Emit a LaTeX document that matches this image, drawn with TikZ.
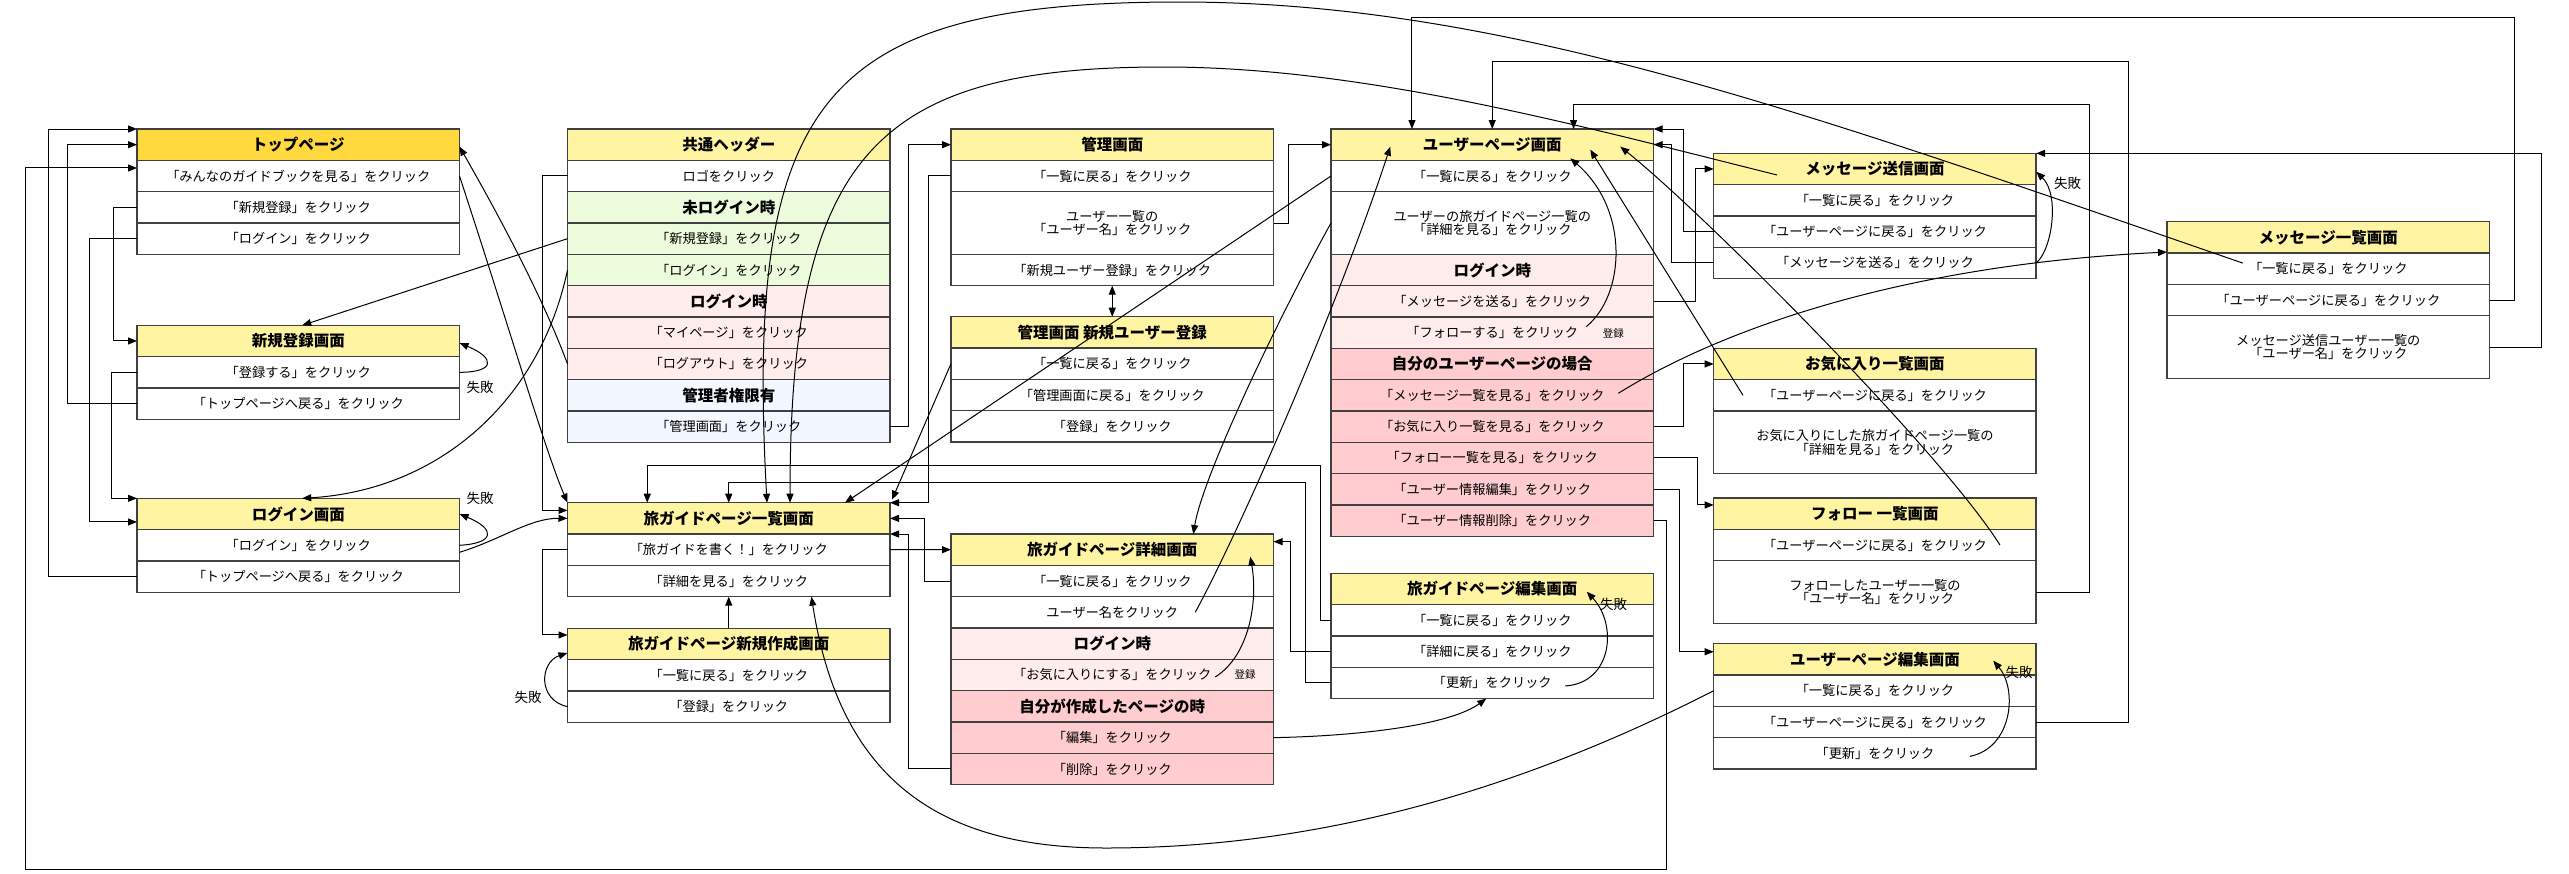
\documentclass[tikz,border=0pt]{standalone}
\usepackage{fontspec}
\setmainfont{Noto Sans CJK JP}
\usetikzlibrary{positioning,arrows.meta}

\definecolor{hdryellow}{HTML}{FFF4A1}
\definecolor{hdrgold}{HTML}{FFD93D}
\definecolor{guestgreen}{HTML}{EDFBDD}
\definecolor{loginpink}{HTML}{FFEDED}
\definecolor{ownpink}{HTML}{FFCCCF}
\definecolor{adminblue}{HTML}{F3F7FF}
\definecolor{boxline}{HTML}{404040}

\newcommand{\rowfont}{\fontsize{13.2}{15}\selectfont}
\newcommand{\twofont}{\fontsize{13.2}{13.5}\selectfont}
\newcommand{\hdrfont}{\fontsize{15.5}{17}\selectfont\bfseries}

\begin{document}
\begin{tikzpicture}[
    x=1pt, y=-1pt,
    >={Triangle[length=9pt,width=7pt]},
    scrbox/.style={draw=boxline, line width=1.5pt, fill=#1, minimum width=322.5pt,
                   minimum height=31.33pt, inner sep=0pt, outer sep=0pt},
    hdrbox/.style={scrbox=#1, font=\hdrfont}, hdrbox/.default=hdryellow,
    rowbox/.style={scrbox=#1, font=\rowfont}, rowbox/.default=white,
    twobox/.style={rowbox=#1, minimum height=62.67pt, align=center, font=\twofont},
    twobox/.default=white,
    link/.style={->, line width=1pt},
    fail/.style={font=\fontsize{13.5}{14}\selectfont},
    reg/.style={font=\fontsize{10.5}{11}\selectfont}
]
\useasboundingbox (0,0) rectangle (2569,873);

% ── トップ・新規登録・ログイン ─────────────────────────────
\node[hdrbox=hdrgold, anchor=north west] (top) at (137,129) {トップページ};
\node[rowbox, below=0pt of top]  (top1) {「みんなのガイドブックを見る」をクリック};
\node[rowbox, below=0pt of top1] (top2) {「新規登録」をクリック};
\node[rowbox, below=0pt of top2] (top3) {「ログイン」をクリック};

\node[hdrbox, anchor=north west] (sign) at (137,325.3) {新規登録画面};
\node[rowbox, below=0pt of sign]  (sign1) {「登録する」をクリック};
\node[rowbox, below=0pt of sign1] (sign2) {「トップページへ戻る」をクリック};

\node[hdrbox, anchor=north west] (login) at (137,498.3) {ログイン画面};
\node[rowbox, below=0pt of login]  (login1) {「ログイン」をクリック};
\node[rowbox, below=0pt of login1] (login2) {「トップページへ戻る」をクリック};

% ── 共通ヘッダー ───────────────────────────────────────────
\node[hdrbox, anchor=north west] (head) at (567.5,129) {共通ヘッダー};
\node[rowbox, below=0pt of head]  (head1) {ロゴをクリック};
\node[hdrbox=guestgreen, below=0pt of head1] (head2) {未ログイン時};
\node[rowbox=guestgreen, below=0pt of head2] (head3) {「新規登録」をクリック};
\node[rowbox=guestgreen, below=0pt of head3] (head4) {「ログイン」をクリック};
\node[hdrbox=loginpink, below=0pt of head4] (head5) {ログイン時};
\node[rowbox=loginpink, below=0pt of head5] (head6) {「マイページ」をクリック};
\node[rowbox=loginpink, below=0pt of head6] (head7) {「ログアウト」をクリック};
\node[hdrbox=adminblue, below=0pt of head7] (head8) {管理者権限有};
\node[rowbox=adminblue, below=0pt of head8] (head9) {「管理画面」をクリック};

% ── 旅ガイド一覧・新規作成 ─────────────────────────────────
\node[hdrbox, anchor=north west] (glist) at (567.5,502.7) {旅ガイドページ一覧画面};
\node[rowbox, below=0pt of glist]  (glist1) {「旅ガイドを書く！」をクリック};
\node[rowbox, below=0pt of glist1] (glist2) {「詳細を見る」をクリック};

\node[hdrbox, anchor=north west] (gnew) at (567.5,628.3) {旅ガイドページ新規作成画面};
\node[rowbox, below=0pt of gnew]  (gnew1) {「一覧に戻る」をクリック};
\node[rowbox, below=0pt of gnew1] (gnew2) {「登録」をクリック};

% ── 管理画面 ───────────────────────────────────────────────
\node[hdrbox, anchor=north west] (admin) at (951,129) {管理画面};
\node[rowbox, below=0pt of admin]  (admin1) {「一覧に戻る」をクリック};
\node[twobox, below=0pt of admin1] (admin2) {ユーザー一覧の\\「ユーザー名」をクリック};
\node[rowbox, below=0pt of admin2] (admin3) {「新規ユーザー登録」をクリック};

\node[hdrbox, anchor=north west] (anew) at (951,316.7) {管理画面 新規ユーザー登録};
\node[rowbox, below=0pt of anew]  (anew1) {「一覧に戻る」をクリック};
\node[rowbox, below=0pt of anew1] (anew2) {「管理画面に戻る」をクリック};
\node[rowbox, below=0pt of anew2] (anew3) {「登録」をクリック};

% ── 旅ガイド詳細 ───────────────────────────────────────────
\node[hdrbox, anchor=north west] (gdet) at (951,534) {旅ガイドページ詳細画面};
\node[rowbox, below=0pt of gdet]  (gdet1) {「一覧に戻る」をクリック};
\node[rowbox, below=0pt of gdet1] (gdet2) {ユーザー名をクリック};
\node[hdrbox=loginpink, below=0pt of gdet2] (gdet3) {ログイン時};
\node[rowbox=loginpink, below=0pt of gdet3] (gdet4) {「お気に入りにする」をクリック};
\node[hdrbox=ownpink, below=0pt of gdet4] (gdet5) {自分が作成したページの時};
\node[rowbox=ownpink, below=0pt of gdet5] (gdet6) {「編集」をクリック};
\node[rowbox=ownpink, below=0pt of gdet6] (gdet7) {「削除」をクリック};

% ── ユーザーページ ─────────────────────────────────────────
\node[hdrbox, anchor=north west] (user) at (1331,129) {ユーザーページ画面};
\node[rowbox, below=0pt of user]  (user1) {「一覧に戻る」をクリック};
\node[twobox, below=0pt of user1] (user2) {ユーザーの旅ガイドページ一覧の\\「詳細を見る」をクリック};
\node[hdrbox=loginpink, below=0pt of user2] (user3) {ログイン時};
\node[rowbox=loginpink, below=0pt of user3] (user4) {「メッセージを送る」をクリック};
\node[rowbox=loginpink, below=0pt of user4] (user5) {「フォローする」をクリック};
\node[hdrbox=ownpink, below=0pt of user5] (user6) {自分のユーザーページの場合};
\node[rowbox=ownpink, below=0pt of user6] (user7) {「メッセージ一覧を見る」をクリック};
\node[rowbox=ownpink, below=0pt of user7] (user8) {「お気に入り一覧を見る」をクリック};
\node[rowbox=ownpink, below=0pt of user8] (user9) {「フォロー一覧を見る」をクリック};
\node[rowbox=ownpink, below=0pt of user9] (user10) {「ユーザー情報編集」をクリック};
\node[rowbox=ownpink, below=0pt of user10] (user11) {「ユーザー情報削除」をクリック};

\node[hdrbox, anchor=north west] (gedit) at (1331,573.3) {旅ガイドページ編集画面};
\node[rowbox, below=0pt of gedit]  (gedit1) {「一覧に戻る」をクリック};
\node[rowbox, below=0pt of gedit1] (gedit2) {「詳細に戻る」をクリック};
\node[rowbox, below=0pt of gedit2] (gedit3) {「更新」をクリック};

% ── 右側の画面 ─────────────────────────────────────────────
\node[hdrbox, anchor=north west] (msend) at (1713.7,153.3) {メッセージ送信画面};
\node[rowbox, below=0pt of msend]  (msend1) {「一覧に戻る」をクリック};
\node[rowbox, below=0pt of msend1] (msend2) {「ユーザーページに戻る」をクリック};
\node[rowbox, below=0pt of msend2] (msend3) {「メッセージを送る」をクリック};

\node[hdrbox, anchor=north west] (fav) at (1713.7,348.3) {お気に入り一覧画面};
\node[rowbox, below=0pt of fav] (fav1) {「ユーザーページに戻る」をクリック};
\node[twobox, below=0pt of fav1] (fav2) {お気に入りにした旅ガイドページ一覧の\\「詳細を見る」をクリック};

\node[hdrbox, anchor=north west] (fol) at (1713.7,498) {フォロー 一覧画面};
\node[rowbox, below=0pt of fol] (fol1) {「ユーザーページに戻る」をクリック};
\node[twobox, below=0pt of fol1] (fol2) {フォローしたユーザー一覧の\\「ユーザー名」をクリック};

\node[hdrbox, anchor=north west] (uedit) at (1713.7,643.7) {ユーザーページ編集画面};
\node[rowbox, below=0pt of uedit]  (uedit1) {「一覧に戻る」をクリック};
\node[rowbox, below=0pt of uedit1] (uedit2) {「ユーザーページに戻る」をクリック};
\node[rowbox, below=0pt of uedit2] (uedit3) {「更新」をクリック};

\node[hdrbox, anchor=north west] (mlist) at (2167,221.7) {メッセージ一覧画面};
\node[rowbox, below=0pt of mlist]  (mlist1) {「一覧に戻る」をクリック};
\node[rowbox, below=0pt of mlist1] (mlist2) {「ユーザーページに戻る」をクリック};
\node[twobox, below=0pt of mlist2] (mlist3) {メッセージ送信ユーザー一覧の\\「ユーザー名」をクリック};

% ── 左側の遷移 ─────────────────────────────────────────────
\draw[link] (login2.west) -- ++(-88.4,0) |- (top.north west);
\draw[link] (sign2.west) -- ++(-69.1,0) |- (top.west);
\draw[link] (user11.east) -- ++(13,0) |- (25.7,869) |- ([yshift=8pt]top1.west);
\draw[link] (top2.west) -- ++(-23.4,0) |- (sign.west);
\draw[link] (top3.west) -- ++(-47.7,0) |- ([yshift=-8pt]login.west);
\draw[link] (sign1.west) -- ++(-25.2,0) |- (login.north west);
\draw[link] (sign1.east) .. controls +(36,0) and +(36,15) .. ([yshift=-2pt]sign.east);
\draw[link] (login1.east) .. controls +(36,-2) and +(36,15) .. (login.east);
\draw[link] ([yshift=-7pt]login1.east) .. controls (500,540) and (530,518) .. (glist.west);
\draw[link] (top1.east) .. controls (510,330) and (545,450) .. (glist.north west);

% ── ヘッダーから ───────────────────────────────────────────
\draw[link] (head1.west) -- ++(-24.6,0) |- ([yshift=8pt]glist.west);
\draw[link] (head3.west) -- ([xshift=4pt]sign.north);
\draw[link] (head4.west) .. controls (540,400) and (440,490) .. ([xshift=4pt]login.north);
\draw[link] (head7.west) .. controls (540,290) and (490,200) .. ([yshift=-2pt]top.east);
\draw[link] (head9.east) -- ++(18,0) |- (admin.west);

% ── 管理画面 ───────────────────────────────────────────────
\draw[link] (admin1.west) -- ++(-23,0) |- (glist.north east);
\draw[<->, line width=1pt] (admin3.south) -- (anew.north);
\draw[link] (admin2.east) -- ++(14.7,0) |- (user.west);
\draw[link] (anew1.west) -- ([xshift=2pt,yshift=3pt]glist.north east);

% ── 旅ガイド ───────────────────────────────────────────────
\draw[link] (glist1.east) -- (gdet.west);
\draw[link] (glist1.west) -- ++(-24.6,0) |- ([yshift=9pt]gnew.west);
\draw[link] (gnew.north) -- (glist2.south);
\draw[link] (gnew2.west) .. controls +(-30.5,-6.7) and +(-27.5,9) .. ([yshift=-9pt]gnew.west);
\draw[link] (gdet1.west) -- ++(-27,0) |- (glist.east);
\draw[link] (gdet7.west) -- ++(-43,0) |- (glist1.north east);
\draw[link] ([xshift=83pt]gdet2.center) .. controls (1245,520) and (1340,300)
    .. ([xshift=-102pt,yshift=-2pt]user.center);
\draw[link] ([xshift=103pt,yshift=-2pt]gdet4.center) .. controls (1250,655) and (1258,600)
    .. ([xshift=138pt,yshift=-7pt]gdet.center);
\draw[link] (gdet6.east) .. controls (1360,736) and (1450,725) .. ([xshift=-6pt]gedit3.south);
\draw[link] (gedit1.west) -| (1320,465.7) -| ([xshift=-81.5pt]glist.north);
\draw[link] (gedit3.west) -| (1305,482) -| (glist.north);
\draw[link] (gedit2.west) -- ++(-41,0) |- ([yshift=8pt]gdet.east);
\draw[link] ([xshift=73pt,yshift=-3pt]gedit3.center) .. controls (1612,683) and (1618,625)
    .. ([xshift=94.5pt,yshift=-2.7pt]gedit.center);

% ── ユーザーページ ─────────────────────────────────────────
\draw[link] (user1.west) -- ([xshift=-45pt]glist.north east);
\draw[link] (user2.west) .. controls +(-50,90) and +(10,-60) .. ([xshift=81pt]gdet.north);
\draw[link] (user4.east) -- ++(42,0) |- (msend.west);
\draw[link] ([xshift=94pt,yshift=6pt]user5.center) .. controls (1625,295) and (1630,210)
    .. ([xshift=78pt,yshift=-13.6pt]user.center);
\draw[link] ([xshift=126pt,yshift=2pt]user7.center) .. controls (1720,330) and (1900,265)
    .. ([yshift=1pt]mlist.south west);
\draw[link] (user8.east) -- ++(30.3,0) |- (fav.west);
\draw[link] (user9.east) -- ++(43.7,0) |- ([yshift=8.7pt]fol.west);
\draw[link] (user10.east) -- ++(26.3,0) |- ([yshift=7.6pt]uedit.west);

% ── 右側の画面から ─────────────────────────────────────────
\draw[link] (msend2.west) -- ++(-30.4,0) |- (user.north east);
\draw[link] (msend3.west) -- ++(-42.7,0) |- (user.east);
\draw[link] (msend3.east) .. controls (2052,250) and (2060,195) .. ([yshift=-2.7pt]msend.east);
\draw[link] ([xshift=-98pt,yshift=-6pt]msend.center) .. controls (1577,125) and (1364,67)
    .. (1164,67) .. controls (880,67) and (790,150) .. ([xshift=61.25pt]glist.north);
\draw[link] ([xshift=-132pt]fav1.center) -- ([xshift=98pt,yshift=-5pt]user.center);
\draw[link] ([xshift=125pt]fol1.center) .. controls (1940,450) and (1700,210)
    .. ([xshift=128pt,yshift=-2pt]user.center);
\draw[link] (fol2.east) -| (2089,104.3) -| ([xshift=81.3pt]user.north);
\draw[link] (uedit2.east) -| (2128,61) -| (user.north);
\draw[link] (uedit1.west) .. controls (1500,800) and (1300,848) .. (1106,848)
    .. controls (940,848) and (840,780) .. ([xshift=82.7pt]glist2.south);
\draw[link] ([xshift=95pt,yshift=-3pt]uedit3.center) .. controls (2012,748) and (2018,690)
    .. ([xshift=118.3pt,yshift=-1.3pt]uedit.center);
\draw[link] ([xshift=-85.5pt,yshift=5.6pt]mlist1.center) .. controls (1800,110) and (1500,2)
    .. (1180,2) .. controls (820,2) and (745,100) .. ([xshift=38.25pt]glist.north);
\draw[link] (mlist2.east) -| (2514.3,17.7) -| ([xshift=-80.3pt]user.north);
\draw[link] (mlist3.east) -| (2541,153.3) -- (msend.north east);

% ── ラベル ─────────────────────────────────────────────────
\node[fail] (fail1) at (480,387.5) {失敗};
\node[fail] (fail2) at (480,498.3) {失敗};
\node[fail] (fail3) at (528,697) {失敗};
\node[fail] (fail4) at (1613.5,604) {失敗};
\node[fail] (fail5) at (2067.5,183.3) {失敗};
\node[fail] (fail6) at (2019,672.5) {失敗};
\node[reg] (reg1) at (1245,674) {登録};
\node[reg] (reg2) at (1613.3,333.5) {登録};

\end{tikzpicture}
\end{document}
